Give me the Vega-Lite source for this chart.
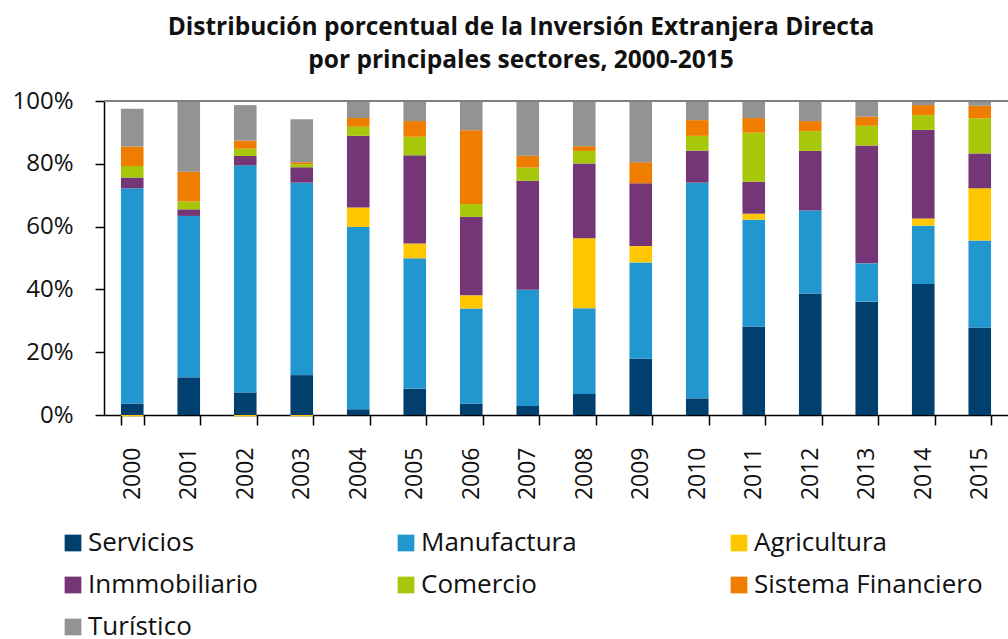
{
  "$schema": "https://vega.github.io/schema/vega-lite/v6.json",
  "autosize": {"type": "none"},
  "padding": {"left": 104, "top": 101, "right": 0, "bottom": 224},
  "width": 904,
  "height": 314,
  "background": "white",
  "config": {"view": {"stroke": null}, "font": "Open Sans"},
  "title": {
    "text": ["Distribución porcentual de la Inversión Extranjera Directa", "por principales sectores, 2000-2015"],
    "fontSize": 24.5,
    "fontWeight": "bold",
    "color": "#111111",
    "anchor": "middle",
    "dx": -35,
    "offset": 16,
    "lineHeight": 33
  },
  "data": {
    "values": [
      {"year": "2000", "s": "Servicios", "v": 3.7, "k": 1},
      {"year": "2000", "s": "Manufactura", "v": 68.5, "k": 2},
      {"year": "2000", "s": "Agricultura", "v": -0.4, "k": 3},
      {"year": "2000", "s": "Inmmobiliario", "v": 3.4, "k": 4},
      {"year": "2000", "s": "Comercio", "v": 3.7, "k": 5},
      {"year": "2000", "s": "Sistema Financiero", "v": 6.2, "k": 6},
      {"year": "2000", "s": "Turístico", "v": 12.0, "k": 7},
      {"year": "2001", "s": "Servicios", "v": 12.0, "k": 1},
      {"year": "2001", "s": "Manufactura", "v": 51.4, "k": 2},
      {"year": "2001", "s": "Agricultura", "v": 0, "k": 3},
      {"year": "2001", "s": "Inmmobiliario", "v": 2.1, "k": 4},
      {"year": "2001", "s": "Comercio", "v": 2.5, "k": 5},
      {"year": "2001", "s": "Sistema Financiero", "v": 9.5, "k": 6},
      {"year": "2001", "s": "Turístico", "v": 22.5, "k": 7},
      {"year": "2002", "s": "Servicios", "v": 7.2, "k": 1},
      {"year": "2002", "s": "Manufactura", "v": 72.3, "k": 2},
      {"year": "2002", "s": "Agricultura", "v": -0.4, "k": 3},
      {"year": "2002", "s": "Inmmobiliario", "v": 3.0, "k": 4},
      {"year": "2002", "s": "Comercio", "v": 2.3, "k": 5},
      {"year": "2002", "s": "Sistema Financiero", "v": 2.6, "k": 6},
      {"year": "2002", "s": "Turístico", "v": 11.3, "k": 7},
      {"year": "2003", "s": "Servicios", "v": 12.7, "k": 1},
      {"year": "2003", "s": "Manufactura", "v": 61.3, "k": 2},
      {"year": "2003", "s": "Agricultura", "v": -0.4, "k": 3},
      {"year": "2003", "s": "Inmmobiliario", "v": 4.9, "k": 4},
      {"year": "2003", "s": "Comercio", "v": 1.0, "k": 5},
      {"year": "2003", "s": "Sistema Financiero", "v": 0.6, "k": 6},
      {"year": "2003", "s": "Turístico", "v": 13.7, "k": 7},
      {"year": "2004", "s": "Servicios", "v": 1.8, "k": 1},
      {"year": "2004", "s": "Manufactura", "v": 58.1, "k": 2},
      {"year": "2004", "s": "Agricultura", "v": 6.2, "k": 3},
      {"year": "2004", "s": "Inmmobiliario", "v": 22.8, "k": 4},
      {"year": "2004", "s": "Comercio", "v": 2.9, "k": 5},
      {"year": "2004", "s": "Sistema Financiero", "v": 2.8, "k": 6},
      {"year": "2004", "s": "Turístico", "v": 5.4, "k": 7},
      {"year": "2005", "s": "Servicios", "v": 8.4, "k": 1},
      {"year": "2005", "s": "Manufactura", "v": 41.5, "k": 2},
      {"year": "2005", "s": "Agricultura", "v": 4.7, "k": 3},
      {"year": "2005", "s": "Inmmobiliario", "v": 28.1, "k": 4},
      {"year": "2005", "s": "Comercio", "v": 5.9, "k": 5},
      {"year": "2005", "s": "Sistema Financiero", "v": 5.0, "k": 6},
      {"year": "2005", "s": "Turístico", "v": 6.4, "k": 7},
      {"year": "2006", "s": "Servicios", "v": 3.6, "k": 1},
      {"year": "2006", "s": "Manufactura", "v": 30.3, "k": 2},
      {"year": "2006", "s": "Agricultura", "v": 4.2, "k": 3},
      {"year": "2006", "s": "Inmmobiliario", "v": 25.0, "k": 4},
      {"year": "2006", "s": "Comercio", "v": 4.1, "k": 5},
      {"year": "2006", "s": "Sistema Financiero", "v": 23.5, "k": 6},
      {"year": "2006", "s": "Turístico", "v": 9.3, "k": 7},
      {"year": "2007", "s": "Servicios", "v": 2.9, "k": 1},
      {"year": "2007", "s": "Manufactura", "v": 37.0, "k": 2},
      {"year": "2007", "s": "Agricultura", "v": 0, "k": 3},
      {"year": "2007", "s": "Inmmobiliario", "v": 34.7, "k": 4},
      {"year": "2007", "s": "Comercio", "v": 4.2, "k": 5},
      {"year": "2007", "s": "Sistema Financiero", "v": 3.8, "k": 6},
      {"year": "2007", "s": "Turístico", "v": 17.4, "k": 7},
      {"year": "2008", "s": "Servicios", "v": 6.7, "k": 1},
      {"year": "2008", "s": "Manufactura", "v": 27.3, "k": 2},
      {"year": "2008", "s": "Agricultura", "v": 22.3, "k": 3},
      {"year": "2008", "s": "Inmmobiliario", "v": 23.8, "k": 4},
      {"year": "2008", "s": "Comercio", "v": 4.0, "k": 5},
      {"year": "2008", "s": "Sistema Financiero", "v": 1.5, "k": 6},
      {"year": "2008", "s": "Turístico", "v": 14.4, "k": 7},
      {"year": "2009", "s": "Servicios", "v": 17.9, "k": 1},
      {"year": "2009", "s": "Manufactura", "v": 30.7, "k": 2},
      {"year": "2009", "s": "Agricultura", "v": 5.2, "k": 3},
      {"year": "2009", "s": "Inmmobiliario", "v": 20.0, "k": 4},
      {"year": "2009", "s": "Comercio", "v": 0, "k": 5},
      {"year": "2009", "s": "Sistema Financiero", "v": 6.7, "k": 6},
      {"year": "2009", "s": "Turístico", "v": 19.5, "k": 7},
      {"year": "2010", "s": "Servicios", "v": 5.3, "k": 1},
      {"year": "2010", "s": "Manufactura", "v": 68.7, "k": 2},
      {"year": "2010", "s": "Agricultura", "v": 0, "k": 3},
      {"year": "2010", "s": "Inmmobiliario", "v": 10.2, "k": 4},
      {"year": "2010", "s": "Comercio", "v": 4.7, "k": 5},
      {"year": "2010", "s": "Sistema Financiero", "v": 5.0, "k": 6},
      {"year": "2010", "s": "Turístico", "v": 6.1, "k": 7},
      {"year": "2011", "s": "Servicios", "v": 28.2, "k": 1},
      {"year": "2011", "s": "Manufactura", "v": 34.0, "k": 2},
      {"year": "2011", "s": "Agricultura", "v": 1.9, "k": 3},
      {"year": "2011", "s": "Inmmobiliario", "v": 10.2, "k": 4},
      {"year": "2011", "s": "Comercio", "v": 15.6, "k": 5},
      {"year": "2011", "s": "Sistema Financiero", "v": 4.7, "k": 6},
      {"year": "2011", "s": "Turístico", "v": 5.4, "k": 7},
      {"year": "2012", "s": "Servicios", "v": 38.7, "k": 1},
      {"year": "2012", "s": "Manufactura", "v": 26.4, "k": 2},
      {"year": "2012", "s": "Agricultura", "v": 0, "k": 3},
      {"year": "2012", "s": "Inmmobiliario", "v": 19.0, "k": 4},
      {"year": "2012", "s": "Comercio", "v": 6.3, "k": 5},
      {"year": "2012", "s": "Sistema Financiero", "v": 3.2, "k": 6},
      {"year": "2012", "s": "Turístico", "v": 6.4, "k": 7},
      {"year": "2013", "s": "Servicios", "v": 36.1, "k": 1},
      {"year": "2013", "s": "Manufactura", "v": 12.2, "k": 2},
      {"year": "2013", "s": "Agricultura", "v": 0, "k": 3},
      {"year": "2013", "s": "Inmmobiliario", "v": 37.5, "k": 4},
      {"year": "2013", "s": "Comercio", "v": 6.3, "k": 5},
      {"year": "2013", "s": "Sistema Financiero", "v": 2.9, "k": 6},
      {"year": "2013", "s": "Turístico", "v": 5.0, "k": 7},
      {"year": "2014", "s": "Servicios", "v": 41.7, "k": 1},
      {"year": "2014", "s": "Manufactura", "v": 18.6, "k": 2},
      {"year": "2014", "s": "Agricultura", "v": 2.3, "k": 3},
      {"year": "2014", "s": "Inmmobiliario", "v": 28.2, "k": 4},
      {"year": "2014", "s": "Comercio", "v": 4.7, "k": 5},
      {"year": "2014", "s": "Sistema Financiero", "v": 3.2, "k": 6},
      {"year": "2014", "s": "Turístico", "v": 1.3, "k": 7},
      {"year": "2015", "s": "Servicios", "v": 27.9, "k": 1},
      {"year": "2015", "s": "Manufactura", "v": 27.7, "k": 2},
      {"year": "2015", "s": "Agricultura", "v": 16.6, "k": 3},
      {"year": "2015", "s": "Inmmobiliario", "v": 11.1, "k": 4},
      {"year": "2015", "s": "Comercio", "v": 11.2, "k": 5},
      {"year": "2015", "s": "Sistema Financiero", "v": 4.0, "k": 6},
      {"year": "2015", "s": "Turístico", "v": 1.5, "k": 7}
    ]
  },
  "layer": [
    {
      "mark": {"type": "bar"},
      "encoding": {
        "x": {
          "field": "year",
          "type": "ordinal",
          "scale": {"paddingInner": 0.6, "paddingOuter": 0.3},
          "axis": {
            "title": null,
            "labelAngle": -90,
            "labelFontSize": 23,
            "labelColor": "#111111",
            "labelPadding": 22,
            "domainColor": "#000000",
            "domainWidth": 1.5,
            "tickColor": "#000000",
            "tickWidth": 1.5,
            "tickSize": 10,
            "tickBand": "extent"
          }
        },
        "y": {
          "field": "v",
          "type": "quantitative",
          "stack": "zero",
          "scale": {"domain": [0, 100], "nice": false},
          "axis": {
            "title": null,
            "values": [0, 20, 40, 60, 80, 100],
            "labelExpr": "datum.value + '%'",
            "labelFontSize": 24,
            "labelColor": "#111111",
            "labelPadding": 22,
            "domainColor": "#000000",
            "domainWidth": 1.5,
            "tickColor": "#000000",
            "tickWidth": 1.5,
            "tickSize": 9,
            "grid": false
          }
        },
        "color": {
          "field": "s",
          "type": "nominal",
          "scale": {
            "domain": ["Servicios", "Manufactura", "Agricultura", "Inmmobiliario", "Comercio", "Sistema Financiero", "Turístico"],
            "range": ["#003F6E", "#2196CF", "#FFC700", "#743677", "#A6C70A", "#EE7D00", "#939393"]
          },
          "legend": {
            "title": null,
            "orient": "none",
            "legendX": -44,
            "legendY": 429,
            "direction": "horizontal",
            "columns": 3,
            "gridAlign": "all",
            "columnPadding": 76,
            "rowPadding": 16,
            "symbolType": "square",
            "symbolSize": 280,
            "symbolStrokeWidth": 0,
            "labelFontSize": 26,
            "labelColor": "#111111",
            "labelOffset": 2,
            "labelLimit": 400,
            "padding": 0
          }
        },
        "order": {"field": "k", "type": "quantitative"}
      }
    },
    {
      "mark": {"type": "rule", "color": "#808080", "strokeWidth": 1.5},
      "encoding": {"y": {"datum": 100}}
    }
  ]
}
